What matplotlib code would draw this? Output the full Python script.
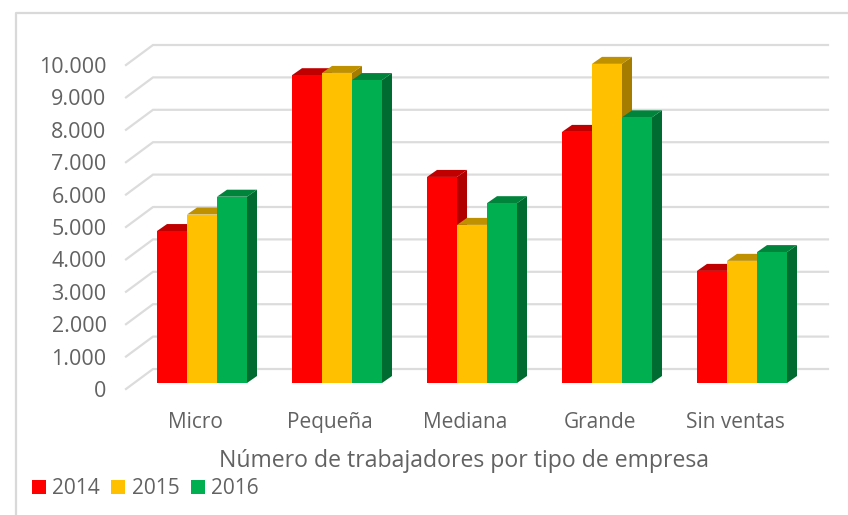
import matplotlib
matplotlib.use("Agg")
import matplotlib.pyplot as plt
from matplotlib.lines import Line2D
from matplotlib.patches import Patch
from matplotlib.transforms import ScaledTranslation

categories = ["Micro", "Pequeña", "Mediana", "Grande", "Sin ventas"]
years = ["2014", "2015", "2016"]
v2014 = [4690, 9500, 6360, 7750, 3460]
v2015 = [5200, 9570, 4880, 9850, 3770]
v2016 = [5750, 9350, 5550, 8200, 4040]
yticks = list(range(0, 11000, 1000))
yticklabels = ["0", "1.000", "2.000", "3.000", "4.000", "5.000", "6.000", "7.000", "8.000", "9.000", "10.000"]
xlabel = "Número de trabajadores por tipo de empresa"

front = ["#FF0000", "#FFC000", "#00B050"]
top = ["#C00000", "#BF9000", "#00843C"]
side = ["#B00000", "#A67C00", "#006B30"]
TXT = "#626262"
GRID = "#DCDCDC"
FONT = "Open Sans"

W, H = 848, 515
fig = plt.figure(figsize=(W / 100, H / 100), dpi=100)
L, R, B, T = 126, 828, 389, 65
ax = fig.add_axes([L / W, 1 - B / H, (R - L) / W, (B - T) / H])
pitch = 135.0
ax.set_xlim((L - 202) / pitch, (R - 202) / pitch)
ax.set_ylim(0, 10000)
ppy = 10000 / (B - T)     # data units per pixel, y
ppx = 1 / pitch           # data units per pixel, x
ax.patch.set_visible(False)
for s in ax.spines.values():
    s.set_visible(False)

# floor / wall offsets
back_dx, back_dy = 27 * ppx, 20 * ppy
for t in yticks:
    ax.plot([ax.get_xlim()[0], ax.get_xlim()[0] + back_dx, ax.get_xlim()[1]],
            [t, t + back_dy, t + back_dy], color=GRID, lw=1.6, clip_on=False, zorder=1,
            solid_joinstyle="miter")

# bars
bw = 30 * ppx
dx, dy = 10 * ppx, 7 * ppy
base = 6 * ppy
z = 2
for i in range(len(categories)):
    for j, vals in enumerate([v2014, v2015, v2016]):
        x0 = i + (j - 1.5) * bw
        x1 = x0 + bw
        y0, y1 = base, base + vals[i]
        ax.fill([x1, x1 + dx, x1 + dx, x1], [y0, y0 + dy, y1 + dy, y1], color=side[j], lw=0, zorder=z, clip_on=False)
        ax.fill([x0, x0 + dx, x1 + dx, x1], [y1, y1 + dy, y1 + dy, y1], color=top[j], lw=0, zorder=z, clip_on=False)
        ax.bar(x0, vals[i], width=bw, bottom=base, align="edge", color=front[j], lw=0, zorder=z + 0.5, clip_on=False)
        z += 1

ax.set_yticks(yticks)
ax.set_yticklabels(yticklabels, fontsize=15.5, color=TXT, family=FONT)
ax.tick_params(axis="y", length=0, pad=14)
ax.set_xticks(range(len(categories)))
ax.set_xticklabels(categories, fontsize=15, color=TXT, family=FONT)
ax.tick_params(axis="x", length=0, pad=16.5)
shift = ScaledTranslation(-7 / 100, 0, fig.dpi_scale_trans)
for lab in ax.get_xticklabels():
    lab.set_transform(lab.get_transform() + shift)
ax.set_xlabel(xlabel, fontsize=16.6, color=TXT, family=FONT)
ax.xaxis.set_label_coords((464 - L) / (R - L), (B - 461) / (B - T), transform=ax.transAxes)
ax.xaxis.label.set_verticalalignment("center")

handles = [Patch(facecolor=front[j], edgecolor="none", label=years[j]) for j in range(3)]
leg = fig.legend(handles=handles, ncols=3, loc="center left", bbox_to_anchor=(32 / W, 1 - 489 / H),
                 frameon=False, prop={"family": FONT, "size": 15}, labelcolor=TXT,
                 handlelength=0.67, handleheight=0.62, handletextpad=0.3, columnspacing=0.55,
                 borderpad=0, borderaxespad=0)

# chart frame
fig.add_artist(Line2D([15.5 / W, 15.5 / W, 1], [0, 1 - 12.5 / H, 1 - 12.5 / H], color="#D9D9D9", lw=1.6))
fig.savefig("out.png", dpi=100)
